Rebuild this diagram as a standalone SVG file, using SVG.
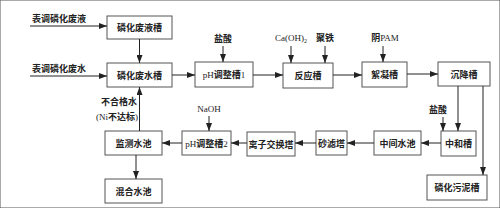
<svg xmlns="http://www.w3.org/2000/svg" width="500" height="208" viewBox="0 0 500 208">
<defs>
<marker id="ah" viewBox="0 0 8 6" refX="8" refY="3" markerWidth="8" markerHeight="6" markerUnits="userSpaceOnUse" orient="auto">
<path d="M0,0 L8,3 L0,6 Z" fill="#222"/>
</marker>
</defs>
<style>
rect{fill:#fff;stroke:#555;stroke-width:1}
text{font-family:"Liberation Serif","Noto Sans CJK SC",serif;font-size:9px;fill:#222;font-weight:bold}
.l{font-weight:normal}
.c{text-anchor:middle}
.e{text-anchor:end}
line{stroke:#222;stroke-width:1;marker-end:url(#ah)}
</style>
<rect width="500" height="208" fill="#fff" stroke="none"/>
<g id="n1"><rect x="107" y="16" width="65" height="23"/><text class="c" x="139.5" y="31">磷化废液槽</text></g>
<g id="n2"><rect x="107" y="63" width="65" height="24"/><text class="c" x="139.5" y="78.5">磷化废水槽</text></g>
<g id="n3"><rect x="195" y="62" width="58" height="25"/><text class="c" x="224" y="78"><tspan class="l">pH</tspan>调整槽<tspan class="l">1</tspan></text></g>
<g id="n4"><rect x="283" y="63" width="50" height="25"/><text class="c" x="308" y="79">反应槽</text></g>
<g id="n5"><rect x="362" y="62" width="45" height="25"/><text class="c" x="384.5" y="78">絮凝槽</text></g>
<g id="n6"><rect x="438" y="62" width="52" height="24"/><text class="c" x="464" y="77.5">沉降槽</text></g>
<g id="n7"><rect x="441" y="131" width="35" height="25"/><text class="c" x="458.5" y="147">中和槽</text></g>
<g id="n8"><rect x="427" y="175" width="60" height="25"/><text class="c" x="457" y="191">磷化污泥槽</text></g>
<g id="n9"><rect x="374" y="131" width="47" height="24"/><text class="c" x="397.5" y="146.5">中间水池</text></g>
<g id="n10"><rect x="316" y="131" width="31" height="24"/><text class="c" x="331.5" y="146.5">砂滤塔</text></g>
<g id="n11"><rect x="247" y="132" width="48" height="24"/><text class="c" x="271" y="147.5">离子交换塔</text></g>
<g id="n12"><rect x="182" y="131" width="49" height="24"/><text class="c" x="206.5" y="146.5"><tspan class="l">pH</tspan>调整槽<tspan class="l">2</tspan></text></g>
<g id="n13"><rect x="105" y="131" width="57" height="24"/><text class="c" x="133.5" y="146.5">监测水池</text></g>
<g id="n14"><rect x="105" y="179" width="57" height="24"/><text class="c" x="133.5" y="194.5">混合水池</text></g>
<g id="labels">
<text x="32" y="22">表调磷化废液</text>
<text x="32" y="72">表调磷化废水</text>
<text class="c" x="223" y="42">盐酸</text>
<text class="c l" x="291" y="41">Ca(OH)<tspan font-size="6" dy="2">2</tspan></text>
<text class="c" x="325" y="41">聚铁</text>
<text class="c" x="385" y="41">阴<tspan class="l">PAM</tspan></text>
<text class="c l" x="209" y="112">NaOH</text>
<text class="c" x="438" y="113">盐酸</text>
<text class="e" x="137" y="105">不合格水</text>
<text class="e" x="138" y="120"><tspan class="l">(Ni</tspan>不达标<tspan class="l">)</tspan></text>
</g>
<g id="connectors">
<line x1="30" y1="26" x2="107" y2="26"/>
<line x1="30" y1="76" x2="107" y2="76"/>
<line x1="139.5" y1="39" x2="139.5" y2="63"/>
<line x1="172" y1="75" x2="195" y2="75"/>
<line x1="253" y1="75" x2="283" y2="75"/>
<line x1="333" y1="75" x2="362" y2="75"/>
<line x1="407" y1="74" x2="438" y2="74"/>
<line x1="223" y1="46" x2="223" y2="62"/>
<line x1="291" y1="46" x2="291" y2="63"/>
<line x1="325" y1="46" x2="325" y2="63"/>
<line x1="383" y1="46" x2="383" y2="62"/>
<line x1="458" y1="86" x2="458" y2="131"/>
<line x1="483" y1="86" x2="483" y2="175"/>
<line x1="443" y1="117" x2="443" y2="131"/>
<line x1="441" y1="143" x2="421" y2="143"/>
<line x1="374" y1="143" x2="347" y2="143"/>
<line x1="316" y1="143" x2="295" y2="143"/>
<line x1="247" y1="143" x2="231" y2="143"/>
<line x1="182" y1="143" x2="162" y2="143"/>
<line x1="209" y1="116" x2="209" y2="131"/>
<line x1="139.5" y1="131" x2="139.5" y2="87"/>
<line x1="136" y1="155" x2="136" y2="179"/>
</g>
</svg>
